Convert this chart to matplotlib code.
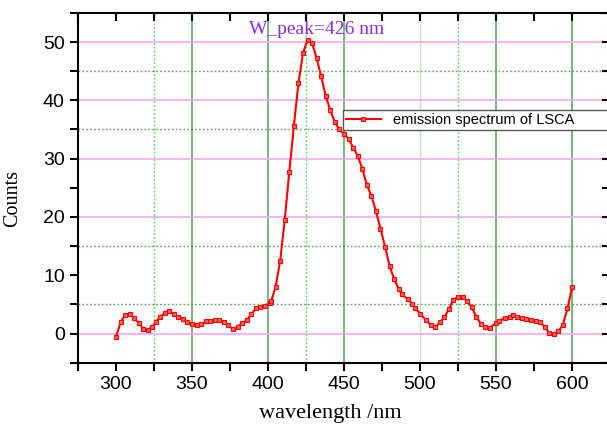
import matplotlib
matplotlib.use("Agg")
import matplotlib.pyplot as plt
import matplotlib.ticker as tck

# emission spectrum
wavelength = [300, 303, 306, 309, 312, 315, 318, 321, 324, 326,
              329, 332, 335, 338, 341, 344, 347, 350, 353, 356,
              359, 362, 365, 368, 371, 374, 377, 380, 383, 386,
              389, 392, 395, 398, 401, 402, 405, 408, 411, 414,
              417, 420, 423, 426, 429, 432, 435, 438, 441, 444,
              447, 450, 453, 456, 459, 462, 465, 468, 471, 474,
              477, 480, 483, 486, 488, 492, 495, 497, 500, 504,
              507, 510, 513, 516, 519, 522, 525, 528, 531, 534,
              537, 540, 543, 546, 550, 552, 556, 559, 561, 564,
              567, 570, 573, 576, 579, 582, 585, 588, 591, 594,
              597, 600]
counts = [-0.6, 1.9, 3.2, 3.3, 2.6, 1.8, 0.8, 0.6, 1.2, 1.9,
          2.9, 3.5, 3.8, 3.3, 2.8, 2.5, 2.0, 1.7, 1.4, 1.6,
          2.1, 2.2, 2.3, 2.3, 1.9, 1.4, 0.7, 1.2, 1.8, 2.3,
          3.3, 4.3, 4.5, 4.8, 5.2, 5.5, 8.0, 12.5, 19.5, 27.7,
          35.6, 42.9, 48.1, 50.4, 49.8, 47.2, 44.1, 40.7, 38.3, 36.2,
          35.0, 34.2, 33.4, 31.9, 30.5, 28.3, 25.5, 23.6, 21.0, 18.0,
          14.9, 11.5, 9.4, 7.6, 6.7, 5.9, 5.0, 4.4, 3.4, 2.3,
          1.5, 1.1, 1.9, 2.8, 4.2, 5.8, 6.3, 6.3, 5.6, 4.5,
          2.9, 1.65, 1.1, 1.0, 1.8, 2.2, 2.7, 2.9, 3.1, 2.9,
          2.7, 2.45, 2.3, 2.2, 2.05, 1.1, 0.1, -0.05, 0.4, 1.5,
          4.3, 7.9]

solid_x = [350, 400, 450, 550, 600]
light_x = [500]
dotted_x = [325, 425, 525]
pink_y = [0, 20, 30, 40, 50]
dotted_y = [5, 15, 35, 45]

fig = plt.figure(figsize=(6.07, 4.24), dpi=100)
ax1 = fig.add_axes([0.1285, 0.1446, 0.8765, 0.825])

for xv in solid_x:
    ax1.axvline(xv, color="#5fa85f", lw=1.2, zorder=1)
for xv in light_x:
    ax1.axvline(xv, color="#c5dcc5", lw=1.0, zorder=1)
for xv in dotted_x:
    ax1.axvline(xv, color="#44e044", lw=1.0, ls=(0, (1.2, 1.6)), zorder=1)
for yv in pink_y:
    ax1.axhline(yv, color="#f2a8f2", lw=1.2, zorder=1)
for yv in dotted_y:
    ax1.axhline(yv, color="#4caa4c", lw=1.0, ls=(0, (1.2, 1.6)), zorder=1)

ax1.plot(wavelength, counts, "r-", marker="s", markersize=3.2,
         markerfacecolor="#ff6060", markeredgecolor="red", markeredgewidth=0.8,
         lw=1.5, label="emission spectrum of LSCA", zorder=3)

ax1.set_xlim(275, 625)
ax1.set_ylim(-5, 55)
ax1.xaxis.set_major_locator(tck.MultipleLocator(50))
ax1.xaxis.set_minor_locator(tck.MultipleLocator(25))
ax1.yaxis.set_major_locator(tck.MultipleLocator(10))
ax1.yaxis.set_minor_locator(tck.MultipleLocator(5))
ax1.set_xticks([300, 350, 400, 450, 500, 550, 600])
ax1.tick_params(axis="both", which="both", direction="out", width=1.5,
                top=True, right=True, labelsize=14, length=6)
for lab in ax1.get_xticklabels() + ax1.get_yticklabels():
    lab.set_fontfamily("Liberation Sans")
# top and right ticks point inward
for t in ax1.xaxis.get_major_ticks() + ax1.xaxis.get_minor_ticks():
    t.tick2line.set_marker(matplotlib.lines.TICKDOWN)
for t in ax1.yaxis.get_major_ticks() + ax1.yaxis.get_minor_ticks():
    t.tick2line.set_marker(matplotlib.lines.TICKLEFT)

for sp in ax1.spines.values():
    sp.set_linewidth(1.5)

ax1.set_xlabel("wavelength /nm", fontsize=16, family="Liberation Serif")
ax1.set_ylabel("Counts", fontsize=14.5, family="Liberation Serif")
ax1.xaxis.set_label_coords(0.475, -0.118)
ax1.yaxis.set_label_coords(-0.105, 0.47)

ax1.text(432, 52.2, "W_peak=426 nm", color="#8a2be2", fontsize=14,
         family="Liberation Serif", ha="center", va="center")

leg = ax1.legend(loc="upper left", bbox_to_anchor=(0.498, 0.723, 0.52, 0.0),
                 mode="expand", fancybox=False, framealpha=1, edgecolor="#555555",
                 prop={"family": "Liberation Sans", "size": 10.5},
                 handlelength=2.4, borderpad=0.2, borderaxespad=0)
leg.get_frame().set_linewidth(1.0)

plt.savefig("out.png", dpi=100)
